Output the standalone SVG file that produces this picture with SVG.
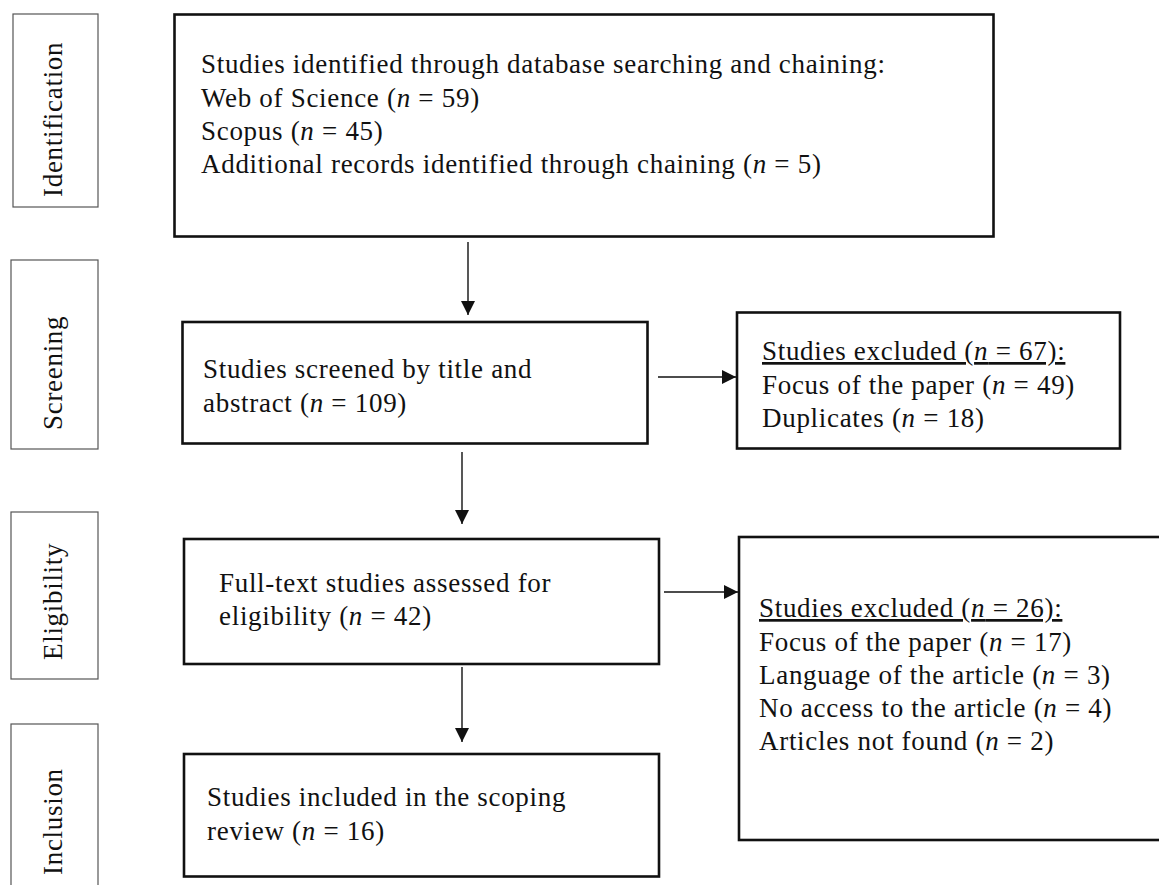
<svg xmlns="http://www.w3.org/2000/svg" width="1159" height="885" viewBox="0 0 1159 885">
<defs>
<style>
.lab{fill:#fff;stroke:#555;stroke-width:1.2}
.box{fill:#fff;stroke:#111;stroke-width:2.6}
.t{font-family:"Liberation Serif","Times New Roman",serif;font-size:27px;letter-spacing:0.7px;fill:#111}
.i{font-style:italic}
.u{text-decoration:underline}
.c{stroke:#111;stroke-width:1.4;fill:none;marker-end:url(#ah)}
</style>
<marker id="ah" viewBox="0 0 14 14" markerWidth="14" markerHeight="14" refX="14" refY="7" orient="auto" markerUnits="userSpaceOnUse">
<path d="M0,0 L14,7 L0,14 Z" fill="#111"/>
</marker>
</defs>
<rect width="1159" height="885" fill="#fff"/>

<g id="label-identification">
<rect class="lab" x="13" y="14" width="85" height="193"/>
<text class="t" transform="translate(62,197) rotate(-90)">Identification</text>
</g>
<g id="label-screening">
<rect class="lab" x="11" y="260" width="87" height="189"/>
<text class="t" transform="translate(62,430) rotate(-90)">Screening</text>
</g>
<g id="label-eligibility">
<rect class="lab" x="11" y="512" width="87" height="167"/>
<text class="t" transform="translate(62,660) rotate(-90)">Eligibility</text>
</g>
<g id="label-inclusion">
<rect class="lab" x="11" y="724" width="87" height="175"/>
<text class="t" transform="translate(62,875) rotate(-90)">Inclusion</text>
</g>

<g id="node-identified">
<rect class="box" x="174.5" y="14.5" width="819" height="222"/>
<text class="t" x="201" y="73">Studies identified through database searching and chaining:</text>
<text class="t" x="201" y="106.5">Web of Science (<tspan class="i">n</tspan> = 59)</text>
<text class="t" x="201" y="140">Scopus (<tspan class="i">n</tspan> = 45)</text>
<text class="t" x="201" y="173">Additional records identified through chaining (<tspan class="i">n</tspan> = 5)</text>
</g>

<g id="node-screened">
<rect class="box" x="182.5" y="322" width="465" height="121.5"/>
<text class="t" x="203" y="378">Studies screened by title and</text>
<text class="t" x="203" y="412">abstract (<tspan class="i">n</tspan> = 109)</text>
</g>

<g id="node-excluded1">
<rect class="box" x="737" y="312.5" width="383" height="136"/>
<text class="t" x="762" y="360"><tspan class="u">Studies excluded (<tspan class="i">n</tspan> = 67):</tspan></text>
<text class="t" x="762" y="394">Focus of the paper (<tspan class="i">n</tspan> = 49)</text>
<text class="t" x="762" y="427">Duplicates (<tspan class="i">n</tspan> = 18)</text>
</g>

<g id="node-eligibility">
<rect class="box" x="184" y="539" width="475" height="125"/>
<text class="t" x="219" y="592">Full-text studies assessed for</text>
<text class="t" x="219" y="625">eligibility (<tspan class="i">n</tspan> = 42)</text>
</g>

<g id="node-excluded2">
<rect class="box" x="739" y="537" width="440" height="303"/>
<text class="t" x="759" y="617"><tspan class="u">Studies excluded (<tspan class="i">n</tspan> = 26):</tspan></text>
<text class="t" x="759" y="650.5">Focus of the paper (<tspan class="i">n</tspan> = 17)</text>
<text class="t" x="759" y="684">Language of the article (<tspan class="i">n</tspan> = 3)</text>
<text class="t" x="759" y="717">No access to the article (<tspan class="i">n</tspan> = 4)</text>
<text class="t" x="759" y="750">Articles not found (<tspan class="i">n</tspan> = 2)</text>
</g>

<g id="node-included">
<rect class="box" x="184" y="754" width="475" height="122.5"/>
<text class="t" x="207" y="806">Studies included in the scoping</text>
<text class="t" x="207" y="840">review (<tspan class="i">n</tspan> = 16)</text>
</g>

<g id="connectors">
<line class="c" x1="468" y1="242" x2="468" y2="315"/>
<line class="c" x1="462" y1="452" x2="462" y2="524"/>
<line class="c" x1="462" y1="667" x2="462" y2="742"/>
<line class="c" x1="658" y1="377" x2="736" y2="377"/>
<line class="c" x1="664" y1="592" x2="738" y2="592"/>
</g>
</svg>
